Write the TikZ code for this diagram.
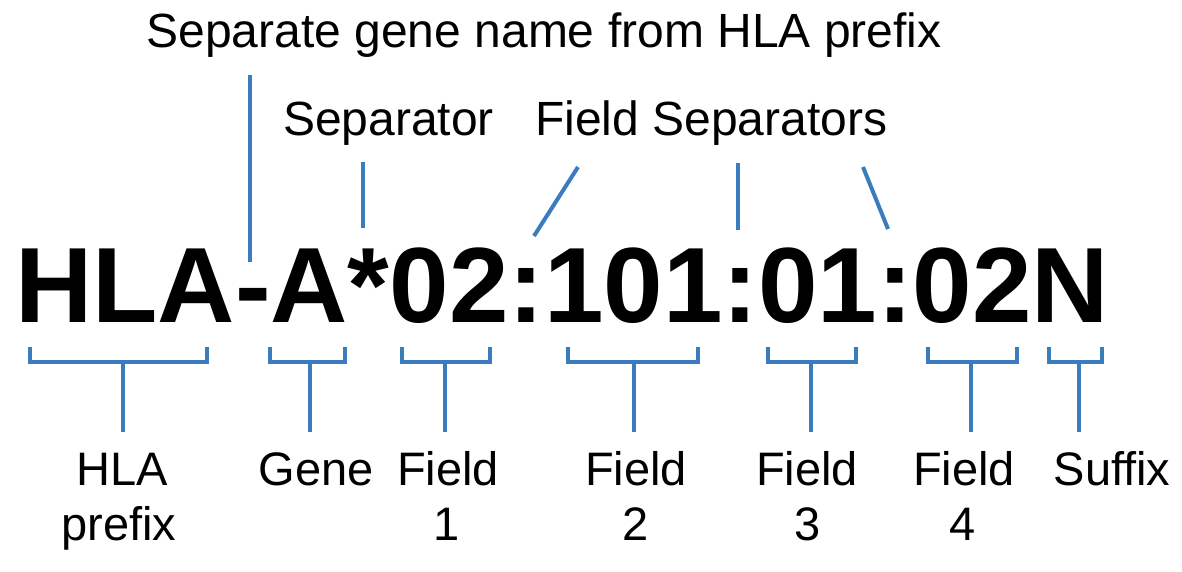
\documentclass[tikz,border=0pt]{standalone}
\usepackage{fontspec}
\setmainfont{Liberation Sans}
\definecolor{hlablue}{RGB}{58,124,190}
\begin{document}
\begin{tikzpicture}[x=1pt,y=-1pt,
  lbl/.style={font=\fontsize{47}{56}\selectfont, inner sep=0pt, anchor=base},
  toplbl/.style={lbl, font=\fontsize{48}{57}\selectfont},
  big/.style={font=\fontsize{107}{120}\selectfont\bfseries, inner sep=0pt, anchor=base west},
  lead/.style={draw=hlablue, line width=4pt},
  brace/.style={draw=hlablue, line width=4pt, line join=miter}]
\useasboundingbox (0,0) rectangle (1182,571);

% allele name
\node[big] (allele) at (15,322) {HLA-A*02:101:01:02N};

% labels above
\node[toplbl] (title) at (544,47) {Separate gene name from HLA prefix};
\node[toplbl, anchor=base west] (sep) at (283,135) {Separator};
\node[toplbl, anchor=base west] (fsep) at (535,135) {Field Separators};

% leader lines above
\coordinate (t1) at (250,75);   \coordinate (t2) at (250,262);
\coordinate (s1) at (363,162);  \coordinate (s2) at (363,228);
\coordinate (f1a) at (578,167); \coordinate (f1b) at (534,236);
\coordinate (f2a) at (738,163); \coordinate (f2b) at (738,230);
\coordinate (f3a) at (863,167); \coordinate (f3b) at (888,229);
\draw[lead] (t1) -- (t2);
\draw[lead] (s1) -- (s2);
\draw[lead] (f1a) -- (f1b);
\draw[lead] (f2a) -- (f2b);
\draw[lead] (f3a) -- (f3b);

% brackets below with stems
\foreach \n/\xa/\xb/\xs in {1/30/207/123, 2/270/345/310, 3/402/490/445,
                             4/568/698/634, 5/768/856/811, 6/928/1017/971,
                             7/1049/1102/1079} {
  \coordinate (b\n l) at (\xa,347);
  \coordinate (b\n r) at (\xb,347);
  \coordinate (b\n m) at (\xs,362);
  \coordinate (b\n e) at (\xs,432);
  \draw[brace] (b\n l) |- (b\n m) -| (b\n r);
  \draw[lead] (b\n m) -- (b\n e);
}

% labels below
\node[lbl] (hla)    at (122,485) {HLA};
\node[lbl] (prefix) at (119,540) {prefix};
\node[lbl] (gene)   at (316,485) {Gene};
\node[lbl] (fld1)   at (448,485) {Field};
\node[lbl] (n1)     at (447,540) {1};
\node[lbl] (fld2)   at (636,485) {Field};
\node[lbl] (n2)     at (636,540) {2};
\node[lbl] (fld3)   at (807,485) {Field};
\node[lbl] (n3)     at (808,540) {3};
\node[lbl] (fld4)   at (964,485) {Field};
\node[lbl] (n4)     at (963,540) {4};
\node[lbl] (suffix) at (1112,485) {Suffix};
\end{tikzpicture}
\end{document}
